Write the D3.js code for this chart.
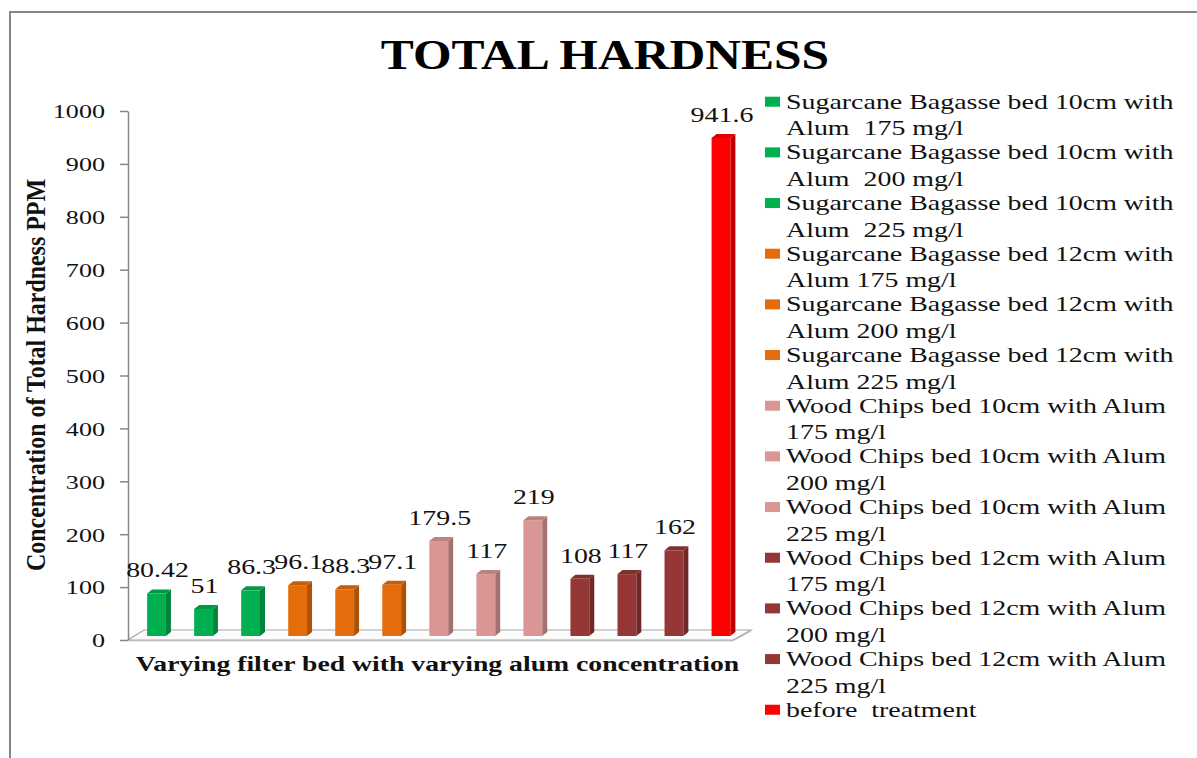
<!DOCTYPE html>
<html>
<head>
<meta charset="utf-8">
<script src="https://cdn.jsdelivr.net/npm/d3@7"></script>
<style>
  body { margin: 0; background: #fff; }
  svg text { font-family: "Liberation Serif", "Times New Roman", serif; fill: #111; white-space: pre; }
</style>
</head>
<body>
<div class="chart"></div>
<script>
// data
const legendLabels = [
  ["Sugarcane Bagasse bed 10cm with", "Alum  175 mg/l"],
  ["Sugarcane Bagasse bed 10cm with", "Alum  200 mg/l"],
  ["Sugarcane Bagasse bed 10cm with", "Alum  225 mg/l"],
  ["Sugarcane Bagasse bed 12cm with", "Alum 175 mg/l"],
  ["Sugarcane Bagasse bed 12cm with", "Alum 200 mg/l"],
  ["Sugarcane Bagasse bed 12cm with", "Alum 225 mg/l"],
  ["Wood Chips bed 10cm with Alum", "175 mg/l"],
  ["Wood Chips bed 10cm with Alum", "200 mg/l"],
  ["Wood Chips bed 10cm with Alum", "225 mg/l"],
  ["Wood Chips bed 12cm with Alum", "175 mg/l"],
  ["Wood Chips bed 12cm with Alum", "200 mg/l"],
  ["Wood Chips bed 12cm with Alum", "225 mg/l"],
  ["before  treatment"]
];
const values = [80.42, 51, 86.3, 96.1, 88.3, 97.1, 179.5, 117, 219, 108, 117, 162, 941.6];
const groups = ["sb10", "sb10", "sb10", "sb12", "sb12", "sb12", "wc10", "wc10", "wc10", "wc12", "wc12", "wc12", "raw"];
const groupNames = ["sb10", "sb12", "wc10", "wc12", "raw"];
const yTicks = [0, 100, 200, 300, 400, 500, 600, 700, 800, 900, 1000];

const W = 1197, H = 758;

const svg = d3.select('.chart').append('svg')
  .attr('width', W)
  .attr('height', H);

// outer frame
svg.append('rect')
  .attr('x', 10).attr('y', 12)
  .attr('width', 1300).attr('height', 900)
  .attr('fill', 'none')
  .attr('stroke', '#868686')
  .attr('stroke-width', 2);

// scales
const y = d3.scaleLinear().domain([0, 1000]).range([640, 111]);
const x = d3.scaleBand()
  .domain(d3.range(values.length))
  .range([133, 744.5])
  .paddingInner(0.6)
  .paddingOuter(0.3);
const color = d3.scaleOrdinal()
  .domain(groupNames)
  .range(['#00B050', '#E46C0A', '#D99694', '#953735', '#FF0000']);

const depthX = 5, depthY = 4, lift = 4;

// floor
const fl = 128, fr = 733, fb = y(0);
svg.append('polygon')
  .attr('points', [[fl, fb + 1.5], [fr, fb + 1.5], [fr + 19, fb - 8.5], [fl + 19, fb - 8.5]].join(' '))
  .attr('fill', '#d0d0d0');
svg.append('polygon')
  .attr('points', [[fl, fb], [fr, fb], [fr + 18, fb - 10], [fl + 16, fb - 10]].join(' '))
  .attr('fill', '#fcfcfc')
  .attr('stroke', '#a6a6a6')
  .attr('stroke-width', 1.2);

// y axis
const yAxis = d3.axisLeft(y)
  .tickValues(yTicks)
  .tickFormat(d3.format('d'))
  .tickSize(8)
  .tickSizeOuter(0);
const yg = svg.append('g')
  .attr('transform', 'translate(128,0)')
  .call(yAxis);
yg.select('.domain').attr('stroke', '#868686').attr('stroke-width', 1.5);
yg.selectAll('.tick line').attr('stroke', '#868686').attr('stroke-width', 1.5);
yg.selectAll('.tick text')
  .attr('x', 0)
  .attr('dy', '0.38em')
  .attr('font-size', 18)
  .attr('fill', '#111')
  .attr('transform', 'translate(-23,0) scale(1.45,1)');

// bars
const bars = svg.selectAll('.bar')
  .data(values)
  .enter()
  .append('g')
  .attr('class', 'bar');

bars.append('polygon') // side
  .attr('points', (d, i) => {
    const x1 = x(i) + x.bandwidth(), t = y(d) - lift, b = y(0) - lift;
    return [[x1, t], [x1 + depthX, t - depthY], [x1 + depthX, b - depthY], [x1, b]].join(' ');
  })
  .attr('fill', (d, i) => d3.color(color(groups[i])).darker(0.8));

bars.append('polygon') // top
  .attr('points', (d, i) => {
    const x0 = x(i), x1 = x0 + x.bandwidth(), t = y(d) - lift;
    return [[x0, t], [x0 + depthX, t - depthY], [x1 + depthX, t - depthY], [x1, t]].join(' ');
  })
  .attr('fill', (d, i) => d3.color(color(groups[i])).darker(0.4));

bars.append('rect') // front
  .attr('x', (d, i) => x(i))
  .attr('y', d => y(d) - lift)
  .attr('width', x.bandwidth())
  .attr('height', d => y(0) - y(d))
  .attr('fill', (d, i) => color(groups[i]));

// data labels
svg.selectAll('.vlabel')
  .data(values)
  .enter()
  .append('text')
  .attr('class', 'vlabel')
  .attr('text-anchor', 'middle')
  .attr('font-size', 21)
  .attr('transform', (d, i) => `translate(${x(i) + x.bandwidth() / 2 + 1},${y(d) - lift - 16}) scale(1.33,1)`)
  .text(d => String(d));

// title
svg.append('text')
  .attr('text-anchor', 'middle')
  .attr('font-size', 42)
  .attr('font-weight', 'bold')
  .attr('transform', 'translate(605,69) scale(1.18,1)')
  .style('fill', '#000')
  .text('TOTAL HARDNESS');

// axis titles
svg.append('text')
  .attr('text-anchor', 'middle')
  .attr('font-size', 21)
  .attr('font-weight', 'bold')
  .attr('transform', 'translate(437.5,671) scale(1.32,1)')
  .text('Varying filter bed with varying alum concentration');

svg.append('text')
  .attr('text-anchor', 'middle')
  .attr('font-size', 21)
  .attr('font-weight', 'bold')
  .attr('transform', 'translate(45,375) rotate(-90) scale(1.14,1.3)')
  .text('Concentration of Total Hardness PPM');

// legend
const legStep = 50.67, legTop = 108.7, lineGap = 26.5;
const leg = svg.append('g').attr('class', 'legend');
const items = leg.selectAll('.item')
  .data(legendLabels)
  .enter()
  .append('g')
  .attr('class', 'item')
  .attr('transform', (d, i) => `translate(0,${legTop + i * legStep})`);

items.append('rect')
  .attr('x', 765)
  .attr('y', -12)
  .attr('width', 15)
  .attr('height', 10)
  .attr('fill', (d, i) => color(groups[i]));

items.selectAll('text')
  .data(d => d)
  .enter()
  .append('text')
  .attr('font-size', 21)
  .attr('transform', (d, j) => `translate(786,${j * lineGap}) scale(1.33,1)`)
  .text(d => d);
</script>
</body>
</html>
